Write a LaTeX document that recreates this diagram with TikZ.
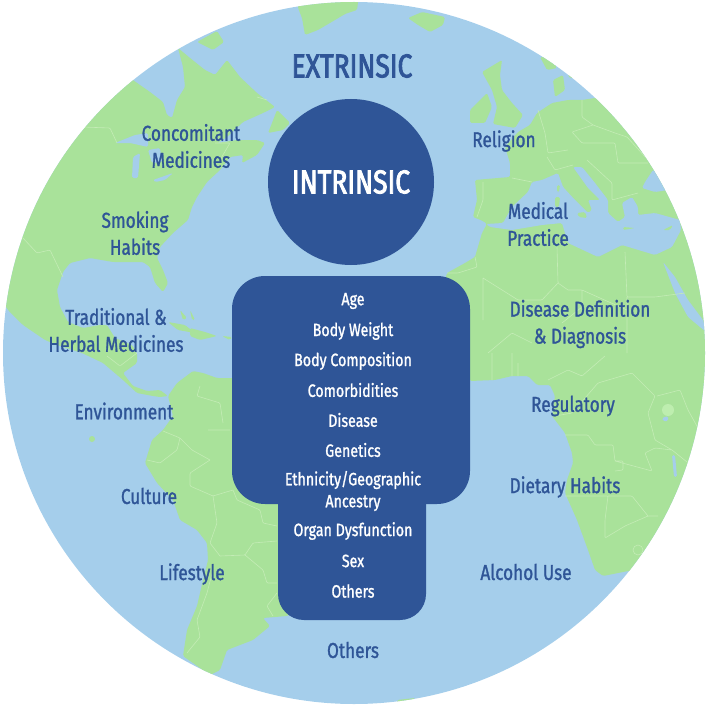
\documentclass[tikz,border=0pt]{standalone}
\usepackage{fontspec}
\usepackage{xcolor}
\newfontfamily\labelfont[FakeStretch=0.8,FakeBold=1.2]{Fira Sans}
\newfontfamily\headfont[FakeStretch=0.8,FakeBold=2.6]{Fira Sans}
\definecolor{oceanblue}{RGB}{165,206,235}
\definecolor{landgreen}{RGB}{169,226,154}
\definecolor{borderpale}{RGB}{196,236,182}
\definecolor{lakegreen}{RGB}{190,238,175}
\definecolor{personblue}{RGB}{47,85,151}
\usetikzlibrary{positioning}

\begin{document}
\begin{tikzpicture}[
        x=1pt, y=-1pt,
        land/.style={fill=landgreen, rounded corners=1.5pt},
        water/.style={fill=oceanblue, rounded corners=1.5pt},
        border/.style={draw=borderpale, line width=0.6pt, rounded corners=1pt},
        extlabel/.style={text=personblue, align=center, inner sep=0pt,
                         font=\labelfont\fontsize{21.5}{27}\selectfont},
        intlabel/.style={text=white, align=center, inner sep=0pt,
                         font=\labelfont\fontsize{17.8}{22}\selectfont},
        bodybox/.style={rectangle, fill=personblue, inner sep=0pt}
      ]
        \useasboundingbox (0,0) rectangle (709,706);
        \fill[oceanblue] (354,353) circle[radius=351pt];

        \begin{scope}
          \clip (354,353) circle[radius=351pt];
          % North and Central America
          \fill[land] (0,60) -- (130,60) -- (130,78) -- (150,92) -- (163,102) -- (167,115) -- (172,118) -- (177,100)
            -- (185,87) -- (183,67) -- (178,48) -- (190,58) -- (205,70) -- (215,75) -- (227,60) -- (240,77)
            -- (257,93) -- (275,107) -- (263,113) -- (243,122) -- (227,137) -- (217,143) -- (237,140) -- (257,140)
            -- (265,143) -- (257,155) -- (242,163) -- (243,155) -- (230,157) -- (220,170) -- (207,182) -- (197,197)
            -- (192,207) -- (188,220) -- (173,233) -- (160,247) -- (157,258) -- (163,270) -- (168,283) -- (163,292)
            -- (155,283) -- (150,267) -- (143,262) -- (113,262) -- (90,258) -- (70,263) -- (63,272) -- (57,290)
            -- (60,307) -- (68,322) -- (83,328) -- (100,325) -- (107,325) -- (115,338) -- (132,345) -- (137,353)
            -- (137,363) -- (123,373) -- (133,386) -- (147,391) -- (160,390) -- (168,396) -- (160,397) -- (153,396)
            -- (137,393) -- (123,380) -- (103,363) -- (82,353) -- (60,346) -- (45,340) -- (23,325) -- (8,310)
            -- (0,297) -- cycle;
          % South America
          \fill[land] (168,396) -- (177,383) -- (193,371) -- (203,373) -- (217,378) -- (232,378) -- (300,400) -- (330,500)
            -- (300,610) -- (287,616) -- (263,618) -- (270,626) -- (253,640) -- (227,650) -- (220,670) -- (210,675)
            -- (183,656) -- (187,630) -- (197,606) -- (203,580) -- (208,560) -- (207,543) -- (197,530) -- (180,520)
            -- (173,500) -- (157,483) -- (145,463) -- (148,453) -- (152,440) -- (163,430) -- (173,416) -- cycle;
          % Europe, Africa, Middle East
          \fill[land] (470,381) -- (495,380) -- (512,376) -- (528,376) -- (537,385) -- (550,385) -- (555,396) -- (552,416)
            -- (565,433) -- (572,453) -- (573,463) -- (567,480) -- (565,493) -- (577,520) -- (588,550) -- (595,570)
            -- (603,576) -- (628,571) -- (720,571) -- (720,98) -- (595,98) -- (582,100) -- (568,100) -- (552,103)
            -- (537,113) -- (530,125) -- (518,132) -- (505,147) -- (510,163) -- (510,177) -- (498,178) -- (475,180)
            -- (477,200) -- (473,217) -- (483,221) -- (487,224) -- (482,233) -- (475,257) -- (465,263) -- (447,273)
            -- (440,300) -- cycle;
          % Mediterranean, Black Sea, Red Sea
          \fill[water] (503,223) -- (512,207) -- (528,192) -- (532,182) -- (542,180) -- (558,173) -- (563,187) -- (575,200)
            -- (588,213) -- (592,210) -- (588,200) -- (600,200) -- (588,188) -- (573,167) -- (582,167) -- (595,183)
            -- (608,200) -- (608,213) -- (618,222) -- (625,217) -- (622,203) -- (632,197) -- (638,207) -- (638,215)
            -- (655,213) -- (680,220) -- (681,230) -- (672,247) -- (655,255) -- (622,245) -- (598,257) -- (568,243)
            -- (565,233) -- (562,223) -- (542,225) -- (512,230) -- (490,227) -- (486,224) -- cycle;
          \fill[water] (653,170) -- (645,182) -- (642,188) -- (655,192) -- (668,190) -- (680,170) -- cycle;
          \fill[water] (663,262) -- (675,277) -- (688,300) -- (703,320) -- (706,332) -- (688,317) -- (675,293) -- cycle;
          \fill[water] (672,455) -- (675,455) -- (677,477) -- (674,477) -- cycle;
          \fill[water] (662,418) -- (668,416) -- (668,421) -- (663,421) -- cycle;
          \fill[lakegreen] (668,410) circle[radius=6pt];
          % Great Lakes
          \fill[water] (115,143) -- (135,135) -- (148,133) -- (148,147) -- (130,143) -- cycle;
          \fill[water] (133,157) -- (140,153) -- (138,178) -- (132,178) -- cycle;
          \fill[water] (153,180) -- (173,173) -- (165,180) -- (155,182) -- cycle;
          \fill[water] (148,150) -- (160,148) -- (162,162) -- (152,163) -- cycle;
          % Islands
          \fill[land] (197,42) -- (217,31) -- (224,42) -- (213,50) -- cycle;
          \fill[land] (298,-5) -- (298,8) -- (302,18) -- (305,35) -- (318,30) -- (335,20) -- (345,14) -- (357,10) -- (359,-5) -- cycle;
          \fill[land] (408,18) -- (422,12) -- (445,17) -- (443,25) -- (430,32) -- (418,25) -- cycle;
          \fill[land] (277,110) -- (290,123) -- (283,130) -- (268,133) -- (272,123) -- cycle;
          \fill[land] (168,322) -- (185,325) -- (195,333) -- (178,330) -- cycle;
          \fill[land] (190,328) -- (205,332) -- (217,336) -- (200,340) -- (190,336) -- cycle;
          \fill[land] (222,336) -- (232,337) -- (230,340) -- cycle;
          \fill[land] (180,310) -- (187,318) -- (183,320) -- cycle;
          \fill[land] (190,310) -- (195,320) -- (192,320) -- cycle;
          \fill[land] (92,439) circle[radius=3pt];
          \fill[land] (482,72) -- (502,60) -- (500,75) -- (502,90) -- (512,103) -- (523,115) -- (515,128) -- (493,124) -- (497,107) -- (492,90) -- cycle;
          \fill[land] (470,110) -- (487,93) -- (492,107) -- (485,123) -- (470,123) -- cycle;
          \fill[land] (553,80) -- (563,75) -- (565,90) -- (555,97) -- cycle;
          \fill[land] (568,77) -- (580,80) -- (590,90) -- (600,75) -- (570,70) -- cycle;
          \fill[land] (540,57) -- (550,58) -- (557,68) -- (547,70) -- cycle;
          \fill[land] (577,213) -- (585,212) -- (587,218) -- (579,217) -- cycle;
          \fill[land] (555,197) -- (560,197) -- (559,207) -- (555,207) -- cycle;
          \fill[land] (557,185) -- (560,185) -- (559,192) -- (557,192) -- cycle;
          \fill[land] (623,227) -- (635,228) -- (623,230) -- cycle;
          \fill[land] (663,230) -- (673,225) -- (670,230) -- cycle;
          \fill[land] (397,700) -- (415,698) -- (415,708) -- (397,708) -- cycle;
          % Borders
          \draw[border] (82,127) -- (110,128) -- (117,143) (215,143) -- (230,143) -- (220,160)
            (22,237) -- (37,253) -- (50,250) -- (63,277) (257,97) -- (267,100) (107,356) -- (120,366) -- (137,353);
          \draw[border] (200,386) -- (197,396) -- (220,403) -- (223,423) (208,430) -- (230,430)
            (163,431) -- (180,438) -- (192,450) -- (210,460) (180,438) -- (177,450) -- (160,463) -- (147,460)
            (210,460) -- (190,473) -- (190,486) -- (213,496) -- (233,490) (213,496) -- (217,523) -- (210,543) -- (220,556)
            (233,490) -- (237,500) -- (260,510) -- (263,523) -- (277,526) (220,556) -- (245,555) -- (253,543) -- (277,541)
            (245,555) -- (263,570) -- (267,583) -- (277,583) (213,570) -- (207,593) -- (197,620) -- (200,637) -- (187,653)
            (277,593) -- (267,606) -- (273,616);
          \draw[border] (447,273) -- (458,273) -- (477,267) -- (475,257) (483,278) -- (483,320)
            (483,278) -- (518,300) -- (542,300) -- (558,283) (557,247) -- (558,283) -- (568,290)
            (625,252) -- (627,297) -- (655,297) -- (685,293) (568,290) -- (582,290) -- (627,310)
            (627,297) -- (627,353) (582,290) -- (582,307) -- (562,323) (488,353) -- (512,333) -- (532,343)
            (492,353) -- (492,380) (512,353) -- (512,376) (518,363) -- (518,376)
            (548,380) -- (568,370) -- (582,376) -- (605,356)
            (555,416) -- (572,413) -- (598,383) -- (632,373) -- (655,396) -- (648,413) -- (655,440) -- (672,450) -- (692,466)
            (565,435) -- (588,435) -- (595,445) -- (613,445) -- (615,461) -- (623,461) -- (623,470) -- (615,471)
            (615,461) -- (652,471) -- (645,453) -- (655,448) -- (672,450)
            (565,496) -- (608,496) -- (605,520) -- (605,538) -- (625,526) -- (648,516) -- (658,516)
            (608,496) -- (632,496) -- (648,516) (657,396) -- (680,390) -- (688,410) -- (698,428);
          \draw[border] (638,550) circle[radius=5pt];
          \draw[border] (512,178) -- (532,182) (483,182) -- (483,200) -- (477,217)
            (538,110) -- (545,133) -- (548,153) -- (568,150) (547,157) -- (555,170) -- (573,165)
            (582,100) -- (582,117) -- (593,125) -- (615,133) -- (627,137) -- (648,160)
            (593,125) -- (572,132) -- (582,143) -- (592,143) -- (615,143) -- (618,163) -- (648,163)
            (587,160) -- (612,183) -- (612,200) -- (638,193);
        \end{scope}

        % Person
        \node[circle, fill=personblue, minimum size=166pt, inner sep=0pt, text=white,
              font=\headfont\fontsize{33}{33}\selectfont] (head) at (351,182) {INTRINSIC};
        \node[bodybox, rounded corners=33pt, minimum width=238pt, minimum height=228pt] (torso) at (351,390) {};
        \node[bodybox, rounded corners=26pt, minimum width=148pt, minimum height=170pt] (legs) at (352,535) {};

        \node[intlabel] (age)     at (353,301) {Age};
        \node[intlabel] (weight)  at (353,331) {Body Weight};
        \node[intlabel] (compos)  at (353,361) {Body Composition};
        \node[intlabel] (comorb)  at (353,390) {Comorbidities};
        \node[intlabel] (disease) at (353,420) {Disease};
        \node[intlabel] (genes)   at (353,450) {Genetics};
        \node[intlabel] (ethnic)  at (353,491) {Ethnicity/Geographic\\Ancestry};
        \node[intlabel] (organ)   at (353,531) {Organ Dysfunction};
        \node[intlabel] (sex)     at (353,561) {Sex};
        \node[intlabel] (otherin) at (353,591) {Others};

        % Extrinsic factors
        \node[text=personblue, font=\headfont\fontsize{33}{33}\selectfont] (extr) at (352,66) {EXTRINSIC};
        \node[extlabel] (concom)  at (191,146) {Concomitant\\Medicines};
        \node[extlabel] (smoke)   at (135,233) {Smoking\\Habits};
        \node[extlabel] (herbal)  at (116,330) {Traditional \&\\Herbal Medicines};
        \node[extlabel] (environ) at (124,411) {Environment};
        \node[extlabel] (culture) at (149,496) {Culture};
        \node[extlabel] (life)    at (192,574) {Lifestyle};
        \node[extlabel] (otherex) at (353,650) {Others};
        \node[extlabel] (alcohol) at (526,572) {Alcohol Use};
        \node[extlabel] (diet)    at (565,487) {Dietary Habits};
        \node[extlabel] (regul)   at (573,406) {Regulatory};
        \node[extlabel] (define)  at (580,324) {Disease Definition\\\& Diagnosis};
        \node[extlabel] (medical) at (538,224) {Medical\\Practice};
        \node[extlabel] (relig)   at (504,141) {Religion};
      \end{tikzpicture}
\end{document}
